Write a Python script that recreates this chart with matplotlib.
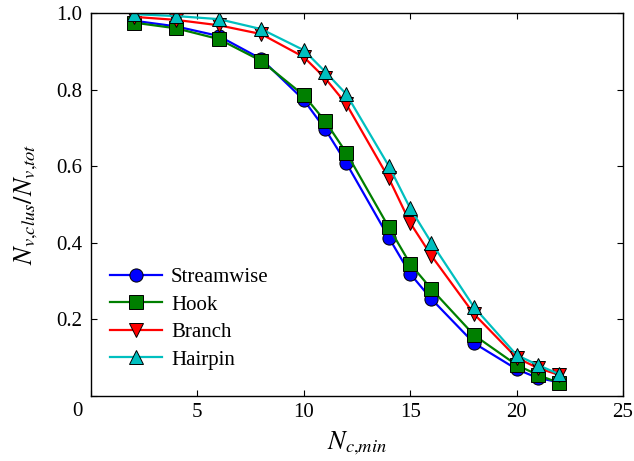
import numpy as np
import matplotlib as mpl
mpl.use('Agg')
import matplotlib.pyplot as plt

mpl.rcParams['font.family'] = 'Liberation Serif'
mpl.rcParams['mathtext.fontset'] = 'stix'
mpl.rcParams['font.size'] = 15

nc = [2, 4, 6, 8, 10, 11, 12, 14, 15, 16, 18, 20, 21, 22]
streamwise = [0.980, 0.965, 0.940, 0.880, 0.773, 0.697, 0.608, 0.413, 0.319, 0.253, 0.138, 0.070, 0.047, 0.036]
hook = [0.975, 0.960, 0.932, 0.875, 0.785, 0.718, 0.635, 0.440, 0.345, 0.279, 0.159, 0.081, 0.055, 0.034]
branch = [0.990, 0.982, 0.968, 0.945, 0.885, 0.830, 0.762, 0.568, 0.452, 0.366, 0.214, 0.100, 0.073, 0.055]
hairpin = [0.997, 0.992, 0.984, 0.958, 0.903, 0.847, 0.788, 0.600, 0.490, 0.400, 0.232, 0.107, 0.081, 0.057]

series = [
    ('Streamwise', streamwise, '#0000ff', 'o', 9.5),
    ('Hook', hook, '#007f00', 's', 10),
    ('Branch', branch, '#ff0000', 'v', 10),
    ('Hairpin', hairpin, '#00bfbf', '^', 10),
]

fig = plt.figure(figsize=(6.34, 4.61), dpi=100)
ax = fig.add_axes([91/634, 1-396/461, (623-91)/634, (396-13)/461])

for name, vals, col, mk, ms in series:
    ax.plot(nc, vals, color=col, lw=1.6, marker=mk, ms=ms,
            mfc=col, mec='black', mew=0.7, label=name)

ax.set_xlim(0, 25)
ax.set_ylim(0, 1.0)
ax.set_xticks([0, 5, 10, 15, 20, 25])
ax.set_xticklabels(['', '5', '10', '15', '20', '25'])
ax.set_yticks([0, 0.2, 0.4, 0.6, 0.8, 1.0])
ax.set_yticklabels(['', '0.2', '0.4', '0.6', '0.8', '1.0'])
ax.tick_params(direction='in', length=4, width=0.8, top=True, right=True, labelsize=15)
ax.tick_params(axis='x', pad=5)
ax.tick_params(axis='y', pad=6)
ax.annotate('0', xy=(0, 0), xycoords='axes fraction', xytext=(-9.7, -11.5),
            textcoords='offset points', ha='center', va='center', fontsize=15)
for s in ax.spines.values():
    s.set_linewidth(1.0)

ax.set_xlabel(r'$N_{c{,}min}$', fontsize=19, labelpad=5)
ax.set_ylabel(r'$N_{v{,}clus}/N_{v{,}tot}$', fontsize=19, labelpad=12)

ax.legend(loc='upper left', bbox_to_anchor=(0.035, 0.335), frameon=False,
          handlelength=2.5, handletextpad=0.45, labelspacing=0.38,
          borderaxespad=0, borderpad=0, fontsize=15)

fig.savefig('out.png', dpi=100)
